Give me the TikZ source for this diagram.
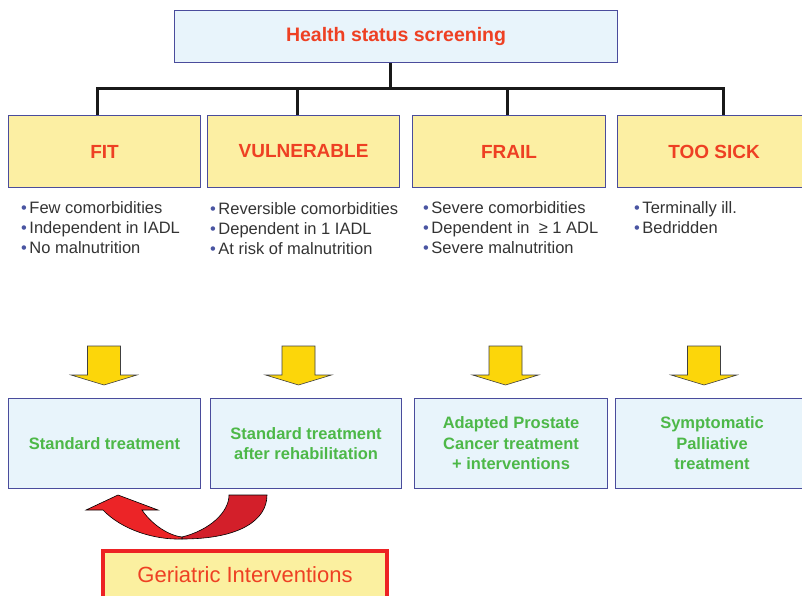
\documentclass[tikz,border=0pt]{standalone}
\usepackage{fontspec}
\setmainfont{Liberation Sans}
\definecolor{paleblue}{HTML}{E8F4FB}
\definecolor{boxedge}{HTML}{4A4C9C}
\definecolor{catyellow}{HTML}{FCEFA3}
\definecolor{headred}{HTML}{EE4023}
\definecolor{treatgreen}{HTML}{4DB848}
\definecolor{dotblue}{HTML}{4A55A2}
\definecolor{bodygray}{HTML}{333333}
\definecolor{arrowgold}{HTML}{FCD60A}
\definecolor{loopred}{HTML}{EC2427}
\definecolor{loopdark}{HTML}{D31F2A}
\definecolor{notefill}{HTML}{FBF0A0}
\definecolor{noteedge}{HTML}{ED2224}
\newcommand\bul{{\color{dotblue}\textbullet}\hspace{2.5pt}}
\begin{document}
\begin{tikzpicture}[x=1pt,y=-1pt,
  framed/.style={draw=boxedge, line width=1.1pt, inner sep=0pt, anchor=north west},
  screen/.style={framed, fill=paleblue, text=headred, font=\bfseries\fontsize{19.5}{22}\selectfont},
  category/.style={framed, fill=catyellow, text=headred, minimum height=72pt, font=\bfseries\fontsize{19}{22}\selectfont},
  treatment/.style={framed, fill=paleblue, text=treatgreen, minimum height=90pt, align=center, font=\bfseries\fontsize{16.5}{20.5}\selectfont},
  criteria/.style={anchor=base west, inner sep=0pt, align=left, text=bodygray, font=\fontsize{16.5}{20}\selectfont},
  bus/.style={line width=3pt, draw=black!90},
  arrowline/.style={draw=black!75, line width=0.6pt, fill=arrowgold, line join=miter},
  loopline/.style={draw=black, line width=0.6pt},
  downarrow/.pic={\path[arrowline] (-16.5,0) -- (16.5,0) -- (16.5,29) -- (33,29) -- (0,39) -- (-33,29) -- (-16.5,29) -- cycle;}
]
\useasboundingbox (0,0) rectangle (802,596);

% screening box
\node[screen, minimum width=443pt, minimum height=52pt] (top) at (174,10) {Health status screening};

% status categories
\node[category, minimum width=192pt] (fit)   at (8,115)   {FIT};
\node[category, minimum width=192pt] (vuln)  at (207,115) {VULNERABLE};
\node[category, minimum width=193pt] (frail) at (412,115) {FRAIL};
\node[category, minimum width=193pt] (sick)  at (617,115) {TOO SICK};

% tree connectors
\coordinate (hub) at (390,89);
\coordinate (b1) at (97,89);
\coordinate (b2) at (297,89);
\coordinate (b3) at (507,89);
\coordinate (b4) at (723,89);
\draw[bus] (hub |- top.south) -- (hub);
\draw[bus, line join=miter] (b1 |- fit.north) -- (b1) -- (b4) -- (b4 |- sick.north);
\draw[bus] (b2) -- (b2 |- vuln.north);
\draw[bus] (b3) -- (b3 |- frail.north);

% criteria lists (anchored on the baseline of the last line)
\node[criteria] (c1) at (21,253)  {\bul Few comorbidities\\\bul Independent in IADL\\\bul No malnutrition};
\node[criteria] (c2) at (210,254) {\bul Reversible comorbidities\\\bul Dependent in 1 IADL\\\bul At risk of malnutrition};
\node[criteria] (c3) at (423,253) {\bul Severe comorbidities\\\bul Dependent in~ ≥ 1 ADL\\\bul Severe malnutrition};
\node[criteria] (c4) at (634,233) {\bul Terminally ill.\\\bul Bedridden};

% down arrows
\pic at (104,346)   {downarrow};
\pic at (298.5,346) {downarrow};
\pic at (505.5,346) {downarrow};
\pic at (704,346)   {downarrow};

% treatments
\node[treatment, minimum width=192pt] (t1) at (8,398)   {Standard treatment};
\node[treatment, minimum width=191pt] (t2) at (210,398) {Standard treatment\\after rehabilitation};
\node[treatment, minimum width=193pt] (t3) at (414,398) {Adapted Prostate\\Cancer treatment\\+ interventions};
\node[treatment, minimum width=193pt] (t4) at (615,398) {Symptomatic\\Palliative\\treatment};

% looping arrow back to standard treatment
\path[loopline, fill=loopdark] (182,537) .. controls (210,530) and (229,512) .. (229,495)
  -- (267,495) .. controls (267,520) and (240,539) .. (182,539) -- cycle;
\path[loopline, fill=loopred, line join=miter] (182,539) .. controls (155,540) and (122,530) .. (103,510)
  -- (86,510) -- (118,495) -- (158,510) -- (142,510)
  .. controls (150,522) and (166,535) .. (182,537) -- cycle;

% interventions box
\node[draw=noteedge, line width=4pt, fill=notefill, text=headred, anchor=north west, inner sep=0pt,
  minimum width=284pt, minimum height=48pt, font=\fontsize{22}{24}\selectfont] (geri) at (101,549) {Geriatric Interventions};
\end{tikzpicture}
\end{document}
